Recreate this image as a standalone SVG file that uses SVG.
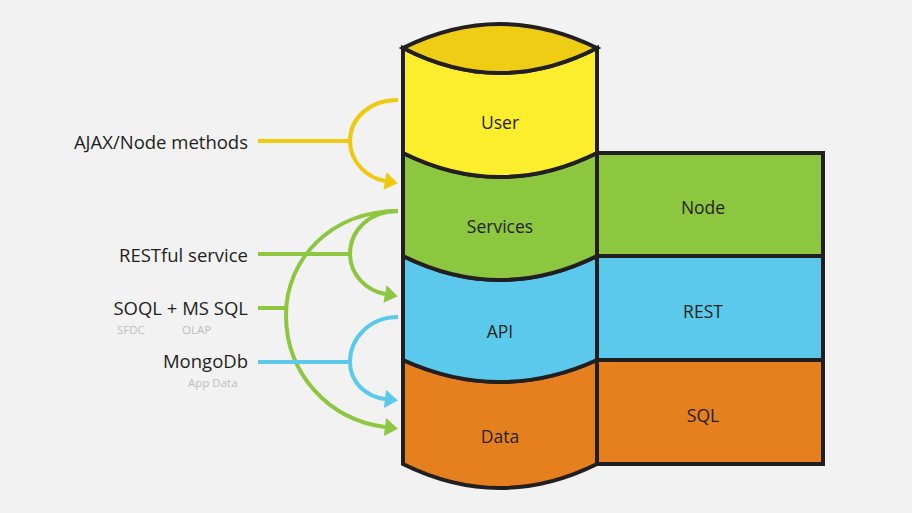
<svg xmlns="http://www.w3.org/2000/svg" width="912" height="513" viewBox="0 0 912 513">
<style>
.band{stroke:#231F20;stroke-width:4;stroke-linejoin:miter}
.box{stroke:#231F20;stroke-width:4}
.lbl{font-family:"Open Sans","Liberation Sans",sans-serif;font-size:17.5px;fill:#231F20;text-anchor:middle;dominant-baseline:central}
.side{font-family:"Open Sans","Liberation Sans",sans-serif;font-size:18.5px;fill:#231F20;text-anchor:end;dominant-baseline:central}
.sub{font-family:"Open Sans","Liberation Sans",sans-serif;font-size:11.5px;fill:#BDBDBD;dominant-baseline:central}
.c{fill:none;stroke-width:4}
</style>
<defs>
<marker id="ay" markerUnits="userSpaceOnUse" markerWidth="24" markerHeight="24" refX="0" refY="0" viewBox="-2 -12 24 24" orient="auto"><path d="M0,-9 L13,0 L0,9 Z" fill="#EFC90F"/></marker>
<marker id="ag" markerUnits="userSpaceOnUse" markerWidth="24" markerHeight="24" refX="0" refY="0" viewBox="-2 -12 24 24" orient="auto"><path d="M0,-9 L13,0 L0,9 Z" fill="#8DC63F"/></marker>
<marker id="ab" markerUnits="userSpaceOnUse" markerWidth="24" markerHeight="24" refX="0" refY="0" viewBox="-2 -12 24 24" orient="auto"><path d="M0,-9 L13,0 L0,9 Z" fill="#5BC9EC"/></marker>
</defs>
<rect width="912" height="513" fill="#F2F2F2"/>

<g id="connectors">
<path class="c" stroke="#EFC90F" d="M258,141 H350"/>
<path class="c" stroke="#EFC90F" d="M398,100 C370,100 350,118 350,141 C350,163 368,178 385,181" marker-end="url(#ay)"/>
<path class="c" stroke="#8DC63F" d="M258,254 H350"/>
<path class="c" stroke="#8DC63F" d="M398,211 C370,211 350,230 350,254 C350,276 368,291 385,294" marker-end="url(#ag)"/>
<path class="c" stroke="#8DC63F" d="M258,308 H287"/>
<path class="c" stroke="#8DC63F" d="M398,211 C330,211 286,260 286,315 C286,375 330,420 385,427" marker-end="url(#ag)"/>
<path class="c" stroke="#5BC9EC" d="M258,362 H350"/>
<path class="c" stroke="#5BC9EC" d="M398,317 C370,317 350,338 350,362 C350,384 368,397 385,399" marker-end="url(#ab)"/>
</g>

<g id="data">
<path class="band" fill="#E67F1E" d="M403,360 Q500,404 597,360 L597,464 Q500,512 403,464 Z"/>
<text class="lbl" x="500" y="436">Data</text>
</g>
<g id="api">
<path class="band" fill="#5BC9EC" d="M403,256 Q500,304 597,256 L597,360 Q500,404 403,360 Z"/>
<text class="lbl" x="500" y="331">API</text>
</g>
<g id="services">
<path class="band" fill="#8DC63F" d="M403,153 Q500,201 597,153 L597,256 Q500,304 403,256 Z"/>
<text class="lbl" x="500" y="226">Services</text>
</g>
<g id="user">
<path class="band" fill="#FCEE2D" d="M403,48 Q500,98 597,48 L597,153 Q500,201 403,153 Z"/>
<path class="band" fill="#EFCD15" d="M403,48 Q500,0 597,48 Q500,98 403,48 Z"/>
<text class="lbl" x="500" y="122">User</text>
</g>

<g id="node">
<rect class="box" x="597" y="153" width="226" height="103" fill="#8DC63F"/>
<text class="lbl" x="703" y="207">Node</text>
</g>
<g id="rest">
<rect class="box" x="597" y="256" width="226" height="104" fill="#5BC9EC"/>
<text class="lbl" x="703" y="311">REST</text>
</g>
<g id="sql">
<rect class="box" x="597" y="360" width="226" height="104" fill="#E67F1E"/>
<text class="lbl" x="703" y="415">SQL</text>
</g>

<g id="labels">
<text class="side" x="248" y="141">AJAX/Node methods</text>
<text class="side" x="248" y="254">RESTful service</text>
<text class="side" x="248" y="307">SOQL + MS SQL</text>
<text class="sub" x="117" y="329">SFDC</text>
<text class="sub" x="182" y="329">OLAP</text>
<text class="side" x="248" y="360">MongoDb</text>
<text class="sub" x="188" y="382">App Data</text>
</g>
</svg>
